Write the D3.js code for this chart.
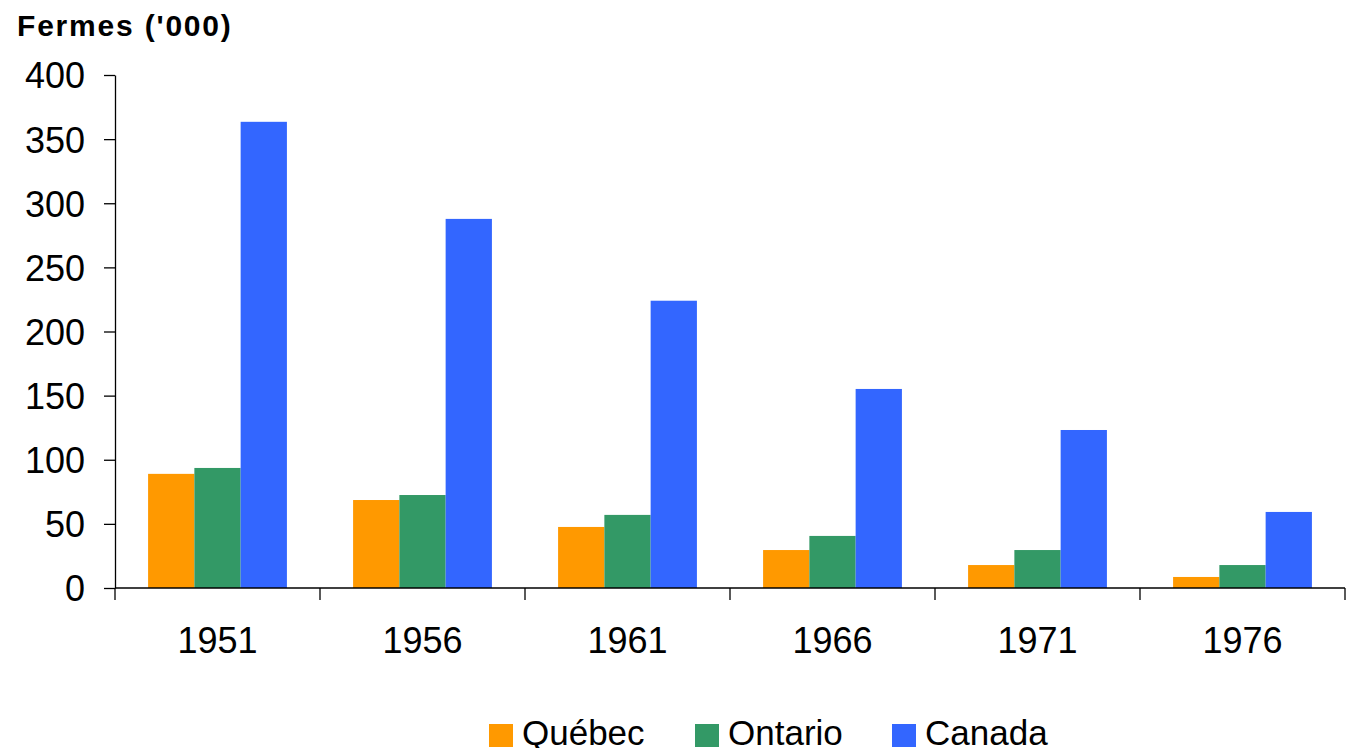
<!DOCTYPE html>
<html>
<head>
    <meta charset="utf-8">
    <title>Fermes</title>
    <script src="https://d3js.org/d3.v7.min.js"></script>
    <style>
        body { margin: 0; background: #fff; }
        svg text { font-family: "Liberation Sans", Arial, sans-serif; fill: #000; }
        .axis path, .axis line { stroke: #000; stroke-width: 1.3px; }
    </style>
</head>
<body>
    <div id="chart"></div>
    <script>
        // data
        const years = ["1951", "1956", "1961", "1966", "1971", "1976"];
        const series = ["Québec", "Ontario", "Canada"];
        const quebec = [89, 68.6, 47.6, 29.6, 17.9, 8.6];
        const ontario = [93.6, 72.5, 57, 40.6, 29.6, 17.9];
        const canada = [363.5, 287.8, 224, 155.2, 123.2, 59.3];
        const colors = ["#FF9900", "#339966", "#3366FF"];
        const yTicks = [0, 50, 100, 150, 200, 250, 300, 350, 400];

        const values = [quebec, ontario, canada];
        const width = 1354, height = 748;
        const plotLeft = 115, plotRight = 1345, plotTop = 75, plotBottom = 588;

        const svg = d3.select("#chart").append("svg")
            .attr("width", width)
            .attr("height", height);

        const x = d3.scaleBand().domain(years).range([plotLeft, plotRight]);
        const xs = d3.scaleBand().domain(series).range([0, x.bandwidth()]).paddingOuter(0.715);
        const y = d3.scaleLinear().domain([0, 400]).range([plotBottom, plotTop]);
        const color = d3.scaleOrdinal().domain(series).range(colors);

        // bars
        series.forEach((s, i) => {
            svg.append("g").selectAll("rect")
                .data(years)
                .enter()
                .append("rect")
                .attr("x", (d) => x(d) + xs(s))
                .attr("width", xs.bandwidth())
                .attr("y", (d, j) => y(values[i][j]))
                .attr("height", (d, j) => plotBottom - y(values[i][j]))
                .attr("fill", color(s));
        });

        // y axis
        const yAxis = svg.append("g")
            .attr("class", "axis")
            .attr("transform", `translate(${plotLeft},0)`)
            .call(d3.axisLeft(y).tickValues(yTicks).tickSize(11).tickSizeOuter(0).tickPadding(19));
        yAxis.selectAll("text").style("font-size", "36px").attr("dy", "0.36em");

        // x axis: ticks at category boundaries
        const xAxis = svg.append("g")
            .attr("class", "axis")
            .attr("transform", `translate(0,${plotBottom})`);
        xAxis.append("line")
            .attr("x1", plotLeft).attr("x2", plotRight)
            .attr("y1", 0).attr("y2", 0);
        const bounds = years.map(d => x(d)).concat([plotRight]);
        xAxis.selectAll(".bt")
            .data(bounds)
            .enter()
            .append("line")
            .attr("x1", d => d).attr("x2", d => d)
            .attr("y1", 0).attr("y2", 12);
        xAxis.selectAll(".yl")
            .data(years)
            .enter()
            .append("text")
            .attr("x", d => x(d) + x.bandwidth() / 2)
            .attr("y", 65)
            .attr("text-anchor", "middle")
            .style("font-size", "36px")
            .text(d => d);

        // axis title
        svg.append("text")
            .attr("x", 17)
            .attr("y", 36)
            .style("font-size", "30px")
            .style("font-weight", "bold")
            .style("letter-spacing", "1.8px")
            .text("Fermes ('000)");

        // legend
        const legendX = [489, 695, 892];
        const legend = svg.append("g").selectAll("g")
            .data(series)
            .enter()
            .append("g")
            .attr("transform", (d, i) => `translate(${legendX[i]},724)`);
        legend.append("rect")
            .attr("width", 24)
            .attr("height", 23)
            .attr("fill", d => color(d));
        legend.append("text")
            .attr("x", 33)
            .attr("y", 21)
            .style("font-size", "35px")
            .text(d => d);
    </script>
</body>
</html>
